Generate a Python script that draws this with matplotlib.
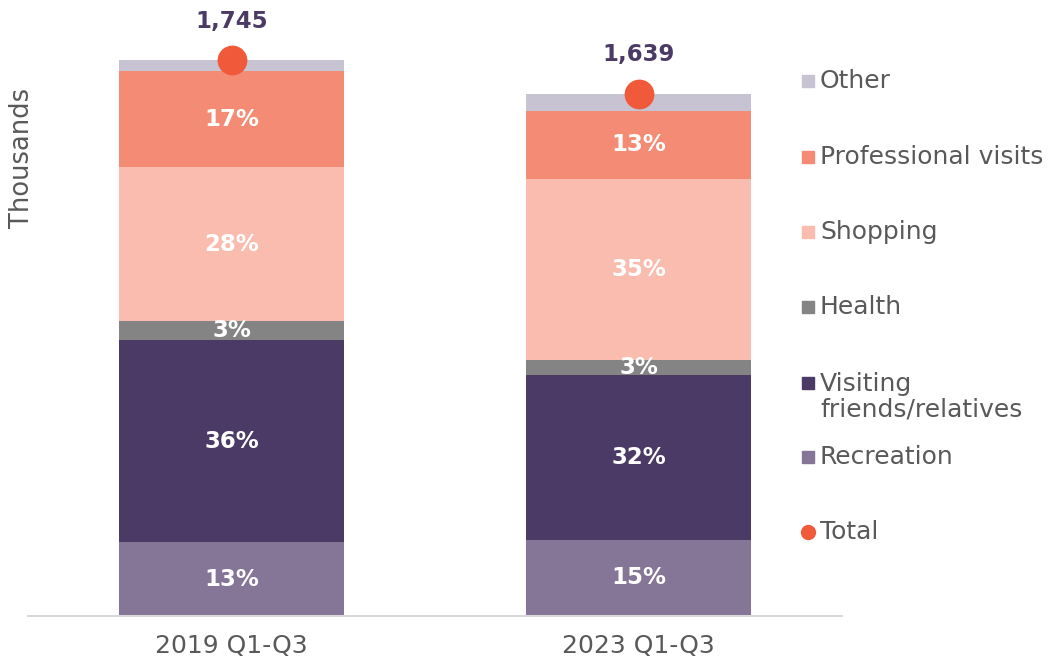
import matplotlib
matplotlib.use("Agg")
import matplotlib.pyplot as plt
import numpy as np

plt.rcParams["font.family"] = ["DejaVu Sans"]

# data (thousands)
periods    = ["2019 Q1-Q3", "2023 Q1-Q3"]
recreation = [232, 239]
visiting   = [634, 518]
health     = [60, 47]
shopping   = [483, 568]
professional = [301, 213]
other      = [35, 54]

segments = [
    ("Recreation", recreation, "#857596"),
    ("Visiting\nfriends/relatives", visiting, "#4b3a66"),
    ("Health", health, "#848484"),
    ("Shopping", shopping, "#f9bcae"),
    ("Professional visits", professional, "#f48b74"),
    ("Other", other, "#c8c3d3"),
]
show_pct = ["Recreation", "Visiting\nfriends/relatives", "Health", "Shopping", "Professional visits"]

TEXT = "#595959"
DOT = "#f05a3a"
PURPLE = "#4b3a66"

fig = plt.figure(figsize=(10.49, 6.6), dpi=100)
ax = fig.add_axes([28/1049, 44/660, 814/1049, 616/660])

x = np.arange(len(periods))
w = 0.555
totals = np.zeros(len(periods))
for _, vals, _ in segments:
    totals += np.array(vals)

bottom = np.zeros(len(periods))
for name, vals, col in segments:
    vals = np.array(vals, dtype=float)
    ax.bar(x, vals, w, bottom=bottom, color=col, linewidth=0)
    if name in show_pct:
        for i in range(len(x)):
            ax.text(x[i], bottom[i] + vals[i]/2, f"{vals[i]/totals[i]*100:.0f}%",
                    ha="center", va="center", color="white", fontsize=16.5,
                    fontweight="bold")
    bottom += vals

ax.scatter(x, totals, s=460, color=DOT, zorder=5, clip_on=False, linewidths=0)
for i in range(len(x)):
    ax.text(x[i], totals[i] + 122, f"{totals[i]:,.0f}", ha="center", va="center",
            color=PURPLE, fontsize=16.5, fontweight="bold")

ax.set_xlim(-0.5, 1.5)
ax.set_ylim(0, 616/0.3186)
ax.set_yticks([])
ax.set_xticks(x)
ax.set_xticklabels(periods, fontsize=18, color=TEXT)
ax.tick_params(axis="x", length=0, pad=13)
for s in ["top", "right", "left"]:
    ax.spines[s].set_visible(False)
ax.spines["bottom"].set_color("#d9d9d9")
ax.spines["bottom"].set_linewidth(1.5)

fig.text(22/1049, 1 - 158/660, "Thousands", rotation=90, ha="center", va="center",
         fontsize=18.5, color=TEXT)

# legend, drawn by hand to match spacing
lax = fig.add_axes([0, 0, 1, 1])
lax.set_xlim(0, 1049)
lax.set_ylim(660, 0)
lax.axis("off")
legend_rows = [
    ("Other", "#c8c3d3", "s", 81),
    ("Professional visits", "#f48b74", "s", 157),
    ("Shopping", "#f9bcae", "s", 232),
    ("Health", "#848484", "s", 307),
    ("Visiting\nfriends/relatives", "#4b3a66", "s", 383),
    ("Recreation", "#857596", "s", 457),
    ("Total", DOT, "o", 532),
]
for label, col, mk, yy in legend_rows:
    lax.plot([808], [yy], marker=mk, color=col, markersize=9 if mk == "s" else 10,
             linestyle="none")
    if "\n" in label:
        lax.text(820, yy - 11, label, ha="left", va="top", fontsize=18,
                 color=TEXT, linespacing=1.1)
    else:
        lax.text(820, yy, label, ha="left", va="center", fontsize=18, color=TEXT)

plt.savefig("out.png", dpi=100)
